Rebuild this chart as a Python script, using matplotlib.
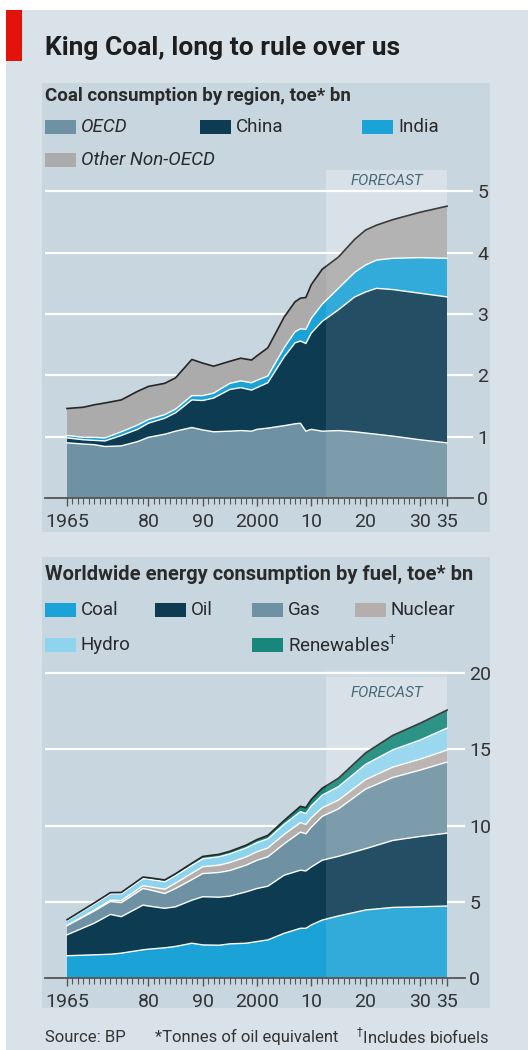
import matplotlib
matplotlib.use('Agg')
import matplotlib.pyplot as plt
from matplotlib.patches import Rectangle
from matplotlib import font_manager
import numpy as np

# ---- coal consumption by region, toe bn ----
coal_years = [1965, 1968, 1970, 1972, 1975, 1978, 1980, 1983, 1985, 1988, 1990, 1992,
              1995, 1997, 1999, 2000, 2002, 2005, 2007, 2008, 2009, 2010, 2012, 2015,
              2018, 2020, 2022, 2025, 2030, 2035]
oecd = [0.90, 0.88, 0.87, 0.84, 0.85, 0.92, 0.99, 1.04, 1.09, 1.15, 1.11, 1.08,
        1.09, 1.10, 1.09, 1.12, 1.14, 1.18, 1.21, 1.22, 1.09, 1.12, 1.09, 1.10,
        1.08, 1.06, 1.04, 1.01, 0.95, 0.90]
china = [0.08, 0.07, 0.07, 0.09, 0.17, 0.20, 0.23, 0.26, 0.30, 0.45, 0.48, 0.55,
         0.68, 0.70, 0.67, 0.68, 0.74, 1.12, 1.32, 1.34, 1.43, 1.57, 1.79, 1.97,
         2.20, 2.30, 2.38, 2.39, 2.39, 2.38]
india = [0.04, 0.04, 0.05, 0.05, 0.06, 0.07, 0.06, 0.06, 0.06, 0.07, 0.08, 0.08,
         0.10, 0.11, 0.12, 0.12, 0.11, 0.15, 0.18, 0.20, 0.23, 0.24, 0.28, 0.35,
         0.40, 0.44, 0.46, 0.51, 0.58, 0.63]
other_non_oecd = [0.44, 0.49, 0.53, 0.57, 0.52, 0.55, 0.54, 0.51, 0.51, 0.59, 0.53, 0.44,
                  0.36, 0.37, 0.37, 0.40, 0.46, 0.50, 0.49, 0.50, 0.52, 0.55, 0.57, 0.51,
                  0.54, 0.57, 0.57, 0.63, 0.74, 0.85]

# ---- world energy consumption by fuel, toe bn ----
fuel_years = [1965, 1970, 1973, 1975, 1979, 1980, 1983, 1985, 1988, 1990, 1993, 1995,
              1998, 2000, 2002, 2005, 2008, 2009, 2010, 2012, 2015, 2020, 2025, 2030, 2035]
coal = [1.46, 1.52, 1.56, 1.63, 1.85, 1.89, 1.98, 2.07, 2.28, 2.17, 2.15, 2.24,
        2.28, 2.39, 2.50, 2.93, 3.26, 3.26, 3.48, 3.80, 4.07, 4.46, 4.63, 4.67, 4.72]
oil = [1.37, 2.07, 2.61, 2.39, 2.93, 2.83, 2.59, 2.60, 2.82, 3.16, 3.15, 3.13,
       3.37, 3.48, 3.52, 3.81, 3.81, 3.76, 3.80, 3.92, 3.91, 4.02, 4.39, 4.61, 4.78]
gas = [0.60, 0.80, 0.85, 0.92, 1.09, 1.08, 0.97, 1.20, 1.35, 1.52, 1.62, 1.68,
       1.75, 1.85, 1.93, 2.06, 2.50, 2.44, 2.61, 2.88, 3.11, 3.91, 4.13, 4.35, 4.66]
nuclear = [0.02, 0.05, 0.08, 0.14, 0.18, 0.20, 0.28, 0.35, 0.42, 0.45, 0.48, 0.52,
           0.54, 0.56, 0.58, 0.62, 0.62, 0.61, 0.62, 0.56, 0.58, 0.62, 0.68, 0.72, 0.79]
hydro = [0.32, 0.40, 0.42, 0.44, 0.47, 0.48, 0.50, 0.50, 0.52, 0.52, 0.55, 0.57,
         0.59, 0.60, 0.60, 0.66, 0.72, 0.72, 0.78, 0.83, 0.88, 1.00, 1.13, 1.25, 1.44]
renewables = [0.05, 0.08, 0.08, 0.09, 0.10, 0.10, 0.11, 0.12, 0.14, 0.15, 0.16, 0.17,
              0.18, 0.20, 0.22, 0.25, 0.35, 0.38, 0.42, 0.45, 0.55, 0.75, 0.95, 1.10, 1.18]

tick_years = [1965, 1980, 1990, 2000, 2010, 2020, 2030, 2035]
tick_labels = ['1965', '80', '90', '2000', '10', '20', '30', '35']
forecast_start = 2012.7

OUTER = '#d8e2e8'
PANEL = '#c8d6df'
BOX = '#d3dee5'
DARK = '#1e1e1e'
C_LIGHT = '#6e91a3'
C_DARK = '#0c3b52'
C_BLUE = '#1ba2d6'
C_GREY = '#ababab'

names = {f.name for f in font_manager.fontManager.ttflist}
FONT = 'Liberation Sans Narrow' if 'Liberation Sans Narrow' in names else 'Roboto'
plt.rcParams['font.family'] = [FONT, 'DejaVu Sans']

W, H = 528, 1050
fig = plt.figure(figsize=(W / 100, H / 100), dpi=100)
fig.patch.set_facecolor('white')


def fx(px):
    return px / W


def fy(py):
    return 1 - py / H


def rect(x0, y0, x1, y1, color, z=-2):
    fig.patches.append(Rectangle((fx(x0), fy(y1)), fx(x1) - fx(x0), fy(y0) - fy(y1),
                                 transform=fig.transFigure, color=color, lw=0, zorder=z))


def text(x, y, s, **kw):
    kw.setdefault('color', DARK)
    fig.text(fx(x), fy(y), s, va='center', ha='left', **kw)


# backgrounds
rect(6, 10, W, H, OUTER, -3)
rect(6, 10, 22, 61, '#e3120b')
rect(42, 83, 490, 532, PANEL)
rect(42, 557, 490, 1008, PANEL)

text(45, 48, 'King Coal, long to rule over us', fontsize=19, fontweight='bold')
text(45, 96, 'Coal consumption by region, toe* bn', fontsize=13.5, fontweight='bold', color='#2a2a2a')
text(45, 574, 'Worldwide energy consumption by fuel, toe* bn', fontsize=14.5, fontweight='bold', color='#2a2a2a')


def legend(items):
    for label, color, x, y, style in items:
        rect(x, y - 7, x + 31, y + 7, color, 1)
        text(x + 36, y, label, fontsize=13.5, style=style, color='#2a2a2a')


legend([('OECD', C_LIGHT, 45, 127, 'italic'),
        ('China', C_DARK, 200, 127, 'normal'),
        ('India', C_BLUE, 362, 127, 'normal'),
        ('Other Non-OECD', C_GREY, 45, 160, 'italic')])
legend([('Coal', C_BLUE, 45, 610, 'normal'),
        ('Oil', C_DARK, 155, 610, 'normal'),
        ('Gas', C_LIGHT, 252, 610, 'normal'),
        ('Nuclear', '#b4aeac', 355, 610, 'normal'),
        ('Hydro', '#8fd4ef', 45, 645, 'normal'),
        ('Renewables$^{\\dagger}$', '#16877a', 252, 645, 'normal')])


def chart(box, years, series, colors, ylim, yticks, box_top, label_y):
    x0, ytop, x1, ybot = box
    ax = fig.add_axes([fx(x0), fy(ybot), fx(x1) - fx(x0), fy(ytop) - fy(ybot)])
    ax.set_facecolor('none')
    px_per_year = (447 - 67) / 70
    ax.set_xlim(1965 - (67 - x0) / px_per_year, 1965 + (x1 - 67) / px_per_year)
    ax.set_ylim(*ylim)
    ax.axvspan(forecast_start, 2035, ymax=box_top, color=BOX, lw=0, zorder=0.5)
    for t in yticks[1:]:
        ax.axhline(t, color='white', lw=1.6, zorder=1)
    ax.stackplot(years, *series, colors=colors, lw=0, zorder=2)
    cum = np.cumsum(series, axis=0)
    for c in cum[:-1]:
        ax.plot(years, c, color='white', lw=1.0, zorder=3)
    ax.plot(years, cum[-1], color='#262626', lw=1.2, zorder=3)
    ax.axvspan(forecast_start, 2035, color='white', alpha=0.1, lw=0, zorder=3.5)
    ax.text(2024, label_y, 'FORECAST', ha='center', va='center', style='italic',
            fontsize=11, color='#48697a', zorder=4)

    for s in ['top', 'left', 'right']:
        ax.spines[s].set_visible(False)
    ax.spines['bottom'].set_color('#555555')
    ax.spines['bottom'].set_linewidth(1.3)
    ax.spines['bottom'].set_zorder(5)
    ax.yaxis.tick_right()
    ax.set_yticks(yticks)
    ax.tick_params(axis='y', length=0, pad=3, labelsize=14, labelcolor='#333333')
    ax.set_xticks(tick_years)
    ax.set_xticklabels(tick_labels)
    ax.set_xticks(range(1965, 2036), minor=True)
    ax.tick_params(axis='x', which='major', length=6, width=1, color='#555555',
                   labelsize=14, labelcolor='#333333', pad=5)
    ax.tick_params(axis='x', which='minor', length=4, width=0.8, color='#555555')
    return ax


chart((45, 170, 473, 498), coal_years, [oecd, china, india, other_non_oecd],
      [C_LIGHT, C_DARK, C_BLUE, C_GREY], (0, 5.35), [0, 1, 2, 3, 4, 5], 1.0, 5.17)
chart((45, 670, 465, 978), fuel_years, [coal, oil, gas, nuclear, hydro, renewables],
      [C_BLUE, C_DARK, C_LIGHT, '#b4aeac', '#8fd4ef', '#16877a'],
      (0, 20.2), [0, 5, 10, 15, 20], 19.75 / 20.2, 18.7)

text(45, 1037, 'Source: BP', fontsize=12, color='#333333')
text(155, 1037, '*Tonnes of oil equivalent', fontsize=12, color='#333333')
text(356, 1037, '$^{\\dagger}$Includes biofuels', fontsize=12, color='#333333')

fig.savefig('out.png', dpi=100, facecolor=fig.get_facecolor())
